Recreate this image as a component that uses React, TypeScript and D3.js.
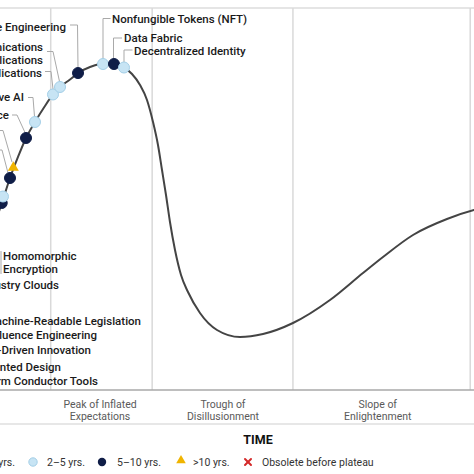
import React from "react";
import * as d3 from "d3";

const W = 474;
const H = 474;

// Hype curve (time, expectations)
const curveTime = [-0.63, 0.32, 2.11, 3.8, 5.49, 7.38, 9.28, 11.18, 12.66, 14.77, 16.46, 18.99, 22.78, 26.16, 27.85, 29.54, 31.01, 32.28, 33.33, 34.18, 35.02, 35.86, 36.92, 38.19, 39.66, 42.19, 45.78, 50.63, 55.49, 61.81, 69.62, 76.58, 80.8, 87.13, 94.3, 100, 101.27];
const curveExpect = [45.29, 48.69, 55.5, 61.0, 65.97, 70.16, 73.95, 77.36, 79.32, 81.28, 82.98, 84.55, 85.6, 84.42, 82.72, 79.84, 75.92, 70.16, 64.14, 57.59, 51.05, 43.98, 36.65, 30.1, 25.65, 20.16, 15.71, 13.87, 14.66, 17.54, 23.56, 30.63, 34.82, 40.58, 44.76, 47.12, 47.51];

// Technologies on the curve
const techTime = [0.36, 0.63, 2.11, 2.81, 5.49, 7.38, 11.18, 12.66, 16.46, 21.73, 24.05, 26.16];
const techExpect = [48.95, 50.65, 55.5, 58.25, 65.97, 70.16, 77.36, 79.32, 82.98, 85.34, 85.34, 84.42];
const techHorizon = ["navy", "light", "navy", "tri", "navy", "light", "light", "light", "navy", "light", "navy", "light"];

const phaseDividers = [10.7, 32.1, 61.8, 99.2];
const phaseNames = [["Peak of Inflated", "Expectations"], ["Trough of", "Disillusionment"], ["Slope of", "Enlightenment"]];
const phaseCenters = [21.1, 47.05, 79.7];

const legendLabels = ["<2 yrs.", "2–5 yrs.", "5–10 yrs.", ">10 yrs.", "Obsolete before plateau"];
const legendKinds = ["white", "light", "navy", "tri", "x"];

// Annotation layout (pixels)
const labelsEnd = [
  { lines: ["AI-Augmented Software Engineering"], x: 66, y: 31, leader: [[70, 25], [77.5, 25], [78, 67.5]] },
  { lines: ["Employee Communications", "Applications"], x: 43, y: 51, leader: [[47, 51.5], [53, 51.5], [59.5, 81.5]] },
  { lines: ["Composable Applications"], x: 42, y: 77, leader: [[45, 71.5], [51, 71.5], [53, 89]] },
  { lines: ["Generative AI"], x: 24, y: 101, leader: [[28, 97.5], [33, 97.5], [34.5, 116.5]] },
  { lines: ["Decentralized Finance"], x: 9, y: 119, leader: [[12, 115], [17, 115], [25, 132.5]] },
  { lines: [], x: 0, y: 0, leader: [[-5, 130.5], [3, 130.5], [12, 162]] },
  { lines: [], x: 0, y: 0, leader: [[-5, 150], [2, 150], [8, 173]] },
  { lines: ["Industry Clouds"], x: 59, y: 289, leader: [] },
  { lines: ["Machine-Readable Legislation"], x: 141, y: 324.5, leader: [] },
  { lines: ["Influence Engineering"], x: 97, y: 339, leader: [] },
  { lines: ["AI-Driven Innovation"], x: 91, y: 353.5, leader: [] },
  { lines: ["AI-Augmented Design"], x: 61, y: 370.5, leader: [] },
  { lines: ["Digital Platform Conductor Tools"], x: 98, y: 385, leader: [] },
];
const labelsStart = [
  { lines: ["Nonfungible Tokens (NFT)"], x: 112, y: 23, leader: [[110.5, 18.5], [103, 18.5], [103, 58.5]] },
  { lines: ["Data Fabric"], x: 124, y: 42, leader: [[122, 38], [113.5, 38], [113.5, 58.5]] },
  { lines: ["Decentralized Identity"], x: 134, y: 55, leader: [[132.5, 50], [124, 50], [124, 62]] },
  { lines: ["Homomorphic", "Encryption"], x: 3, y: 260, leader: [[1, 251], [1, 274]] },
];

const LIGHT = "#c7e4f4";
const LIGHT_STROKE = "#a4cfe7";
const NAVY = "#0f1d47";
const YELLOW = "#f0b400";
const RED = "#d42a2a";
const FONT = "Roboto, 'Noto Sans', Arial, sans-serif";

export default function App() {
  const x = d3.scaleLinear().domain([0, 100]).range([0, W]);
  const y = d3.scaleLinear().domain([0, 100]).range([390, 8]);
  const pts: [number, number][] = curveTime.map((t, i) => [t, curveExpect[i]]);
  const line = d3
    .line<[number, number]>()
    .x((d) => x(d[0]))
    .y((d) => y(d[1]))
    .curve(d3.curveMonotoneX);
  const tri = d3.symbol().type(d3.symbolTriangle).size(52)() as string;
  const triLegend = d3.symbol().type(d3.symbolTriangle).size(40)() as string;
  const leaderPath = d3.line();

  const legendSymX = [-25, 33, 102, 181, 248];
  const legendTextX = [15, 47, 117, 193, 262];
  const legendY = 462;

  return (
    <svg
      width={W}
      height={H}
      style={{ position: "absolute", left: 0, top: 0, background: "#fff" }}
      fontFamily={FONT}
    >
      <rect x={0} y={0} width={W} height={H} fill="#fff" />
      {/* frame lines */}
      <line x1={0} x2={W} y1={y(100)} y2={y(100)} stroke="#dcdcdc" strokeWidth={1.5} />
      {phaseDividers.map((t, i) => (
        <line key={i} x1={x(t)} x2={x(t)} y1={y(100)} y2={y(0)} stroke="#d9d9d9" strokeWidth={1.5} />
      ))}
      <line x1={0} x2={W} y1={y(0)} y2={y(0)} stroke="#a8a8a8" strokeWidth={1.6} />
      <line x1={0} x2={W} y1={424} y2={424} stroke="#cfcfcf" strokeWidth={1.2} />

      {/* leaders */}
      {[...labelsEnd, ...labelsStart].map((l, i) =>
        l.leader.length ? (
          <path key={i} d={leaderPath(l.leader as [number, number][]) as string} fill="none" stroke="#a9a9a9" strokeWidth={1} />
        ) : null
      )}

      {/* curve */}
      <path d={line(pts) as string} fill="none" stroke="#444" strokeWidth={2} />

      {/* markers */}
      {techTime.map((t, i) => {
        const cx = x(t);
        const cy = y(techExpect[i]);
        const k = techHorizon[i];
        if (k === "tri")
          return <path key={i} d={tri} transform={`translate(${cx},${cy})`} fill={YELLOW} />;
        return (
          <circle
            key={i}
            cx={cx}
            cy={cy}
            r={5.5}
            fill={k === "navy" ? NAVY : LIGHT}
            stroke={k === "navy" ? NAVY : LIGHT_STROKE}
            strokeWidth={1}
          />
        );
      })}

      {/* labels */}
      {labelsEnd.map((l, i) =>
        l.lines.map((s, j) => (
          <text key={`e${i}-${j}`} x={l.x} y={l.y + j * 12.5} textAnchor="end" fontSize={11.5} fontWeight={500} fill="#1a1a1a">
            {s}
          </text>
        ))
      )}
      {labelsStart.map((l, i) =>
        l.lines.map((s, j) => (
          <text key={`s${i}-${j}`} x={l.x} y={l.y + j * 12.5} textAnchor="start" fontSize={11.5} fontWeight={500} fill="#1a1a1a">
            {s}
          </text>
        ))
      )}

      {/* phase names */}
      {phaseNames.map((p, i) =>
        p.map((s, j) => (
          <text key={`p${i}-${j}`} x={x(phaseCenters[i])} y={408 + j * 12} textAnchor="middle" fontSize={10.5} fill="#5a5a5a">
            {s}
          </text>
        ))
      )}

      <text x={258} y={444} textAnchor="middle" fontSize={12.5} fontWeight={700} fill="#111">
        TIME
      </text>

      {/* legend */}
      {legendLabels.map((s, i) => {
        const k = legendKinds[i];
        const sx = legendSymX[i];
        let sym: React.ReactNode = null;
        if (k === "light") sym = <circle cx={sx} cy={legendY} r={4.2} fill={LIGHT} stroke={LIGHT_STROKE} />;
        else if (k === "navy") sym = <circle cx={sx} cy={legendY} r={4.2} fill={NAVY} />;
        else if (k === "white") sym = <circle cx={sx} cy={legendY} r={4.2} fill="#fff" stroke="#999" />;
        else if (k === "tri") sym = <path d={triLegend} transform={`translate(${sx},${legendY - 1.5})`} fill={YELLOW} />;
        else
          sym = (
            <g stroke={RED} strokeWidth={2} strokeLinecap="round">
              <line x1={sx - 3} x2={sx + 3} y1={legendY - 3} y2={legendY + 3} />
              <line x1={sx - 3} x2={sx + 3} y1={legendY + 3} y2={legendY - 3} />
            </g>
          );
        return (
          <g key={i}>
            {sym}
            <text
              x={legendTextX[i]}
              y={legendY + 4}
              textAnchor={i === 0 ? "end" : "start"}
              fontSize={10.5}
              fill="#333"
            >
              {s}
            </text>
          </g>
        );
      })}
    </svg>
  );
}
